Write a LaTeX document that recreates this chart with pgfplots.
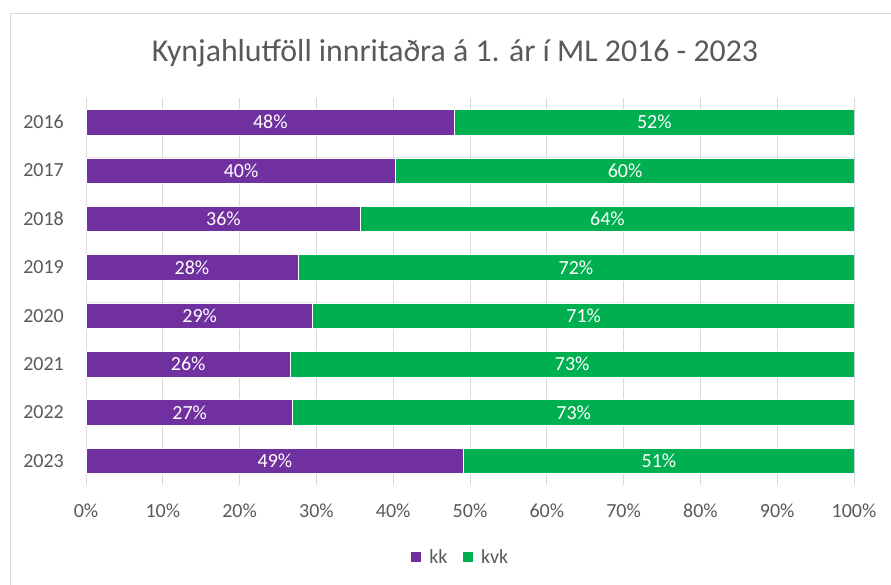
\documentclass[border=0pt]{standalone}
\usepackage{pgfplots}
\usepackage{pgfplotstable}
\pgfplotsset{compat=1.18}
\usepackage{fontspec}
\setmainfont{Carlito}
\definecolor{kkc}{HTML}{7030A0}
\definecolor{kvkc}{HTML}{00B050}
\definecolor{txt}{HTML}{595959}
\definecolor{grd}{HTML}{D9D9D9}
\pgfplotstableread{
y kk kvk
0 47.9 52.1
1 40.3 59.7
2 35.7 64.3
3 27.6 72.4
4 29.5 70.5
5 26.6 73.4
6 26.9 73.1
7 49.1 50.9
}\bars
\pgfplotstableread{
x y lab
24.0 0 48
74.0 0 52
20.2 1 40
70.2 1 60
17.9 2 36
67.9 2 64
13.8 3 28
63.8 3 72
14.8 4 29
64.8 4 71
13.3 5 26
63.3 5 73
13.5 6 27
63.5 6 73
24.6 7 49
74.6 7 51
}\labs
\begin{document}
\begin{tikzpicture}[x=1pt,y=1pt]
\useasboundingbox (0,0) rectangle (891,584);
\draw[grd, line width=1pt] (10,-10) -- (10,570) -- (900,570);
\node[anchor=base, text=txt, font=\fontsize{31.8}{36}\selectfont, inner sep=0pt] at (455,522.3) {Kynjahlutföll innritaðra á 1. ár í ML 2016 - 2023};
\begin{axis}[
  at={(86pt,99pt)}, anchor=south west,
  width=768pt, height=387pt, scale only axis,
  xbar stacked, bar width=25.5pt,
  xmin=0, xmax=100, ymin=-0.5, ymax=7.5, y dir=reverse,
  xtick={0,10,...,100},
  xticklabels={0\%,10\%,20\%,30\%,40\%,50\%,60\%,70\%,80\%,90\%,100\%},
  ytick={0,...,7},
  yticklabels={2016,2017,2018,2019,2020,2021,2022,2023},
  /pgf/number format/assume math mode=true,
  axis line style={draw=none},
  major tick length=0pt,
  xmajorgrids, grid style={grd, line width=1pt},
  ticklabel style={text=txt, font=\fontsize{20}{24}\selectfont, inner sep=0pt},
  xticklabel style={anchor=base, yshift=-32pt},
  yticklabel style={anchor=east, xshift=-22pt},
  legend style={at={(0.487,-0.186)}, anchor=center, draw=none, fill=none,
    legend columns=2, font=\fontsize{20}{24}\selectfont, text=txt,
    /tikz/every odd column/.append style={column sep=6pt},
    /tikz/every even column/.append style={column sep=12pt}},
  legend image code/.code={\fill[#1] (0pt,-5.5pt) rectangle (11pt,5.5pt);},
]
\addplot[fill=kkc, draw=white, line width=0.6pt] table[x=kk, y=y] {\bars};
\addlegendentry{kk}
\addplot[fill=kvkc, draw=white, line width=0.6pt] table[x=kvk, y=y] {\bars};
\addlegendentry{kvk}
\end{axis}
\begin{axis}[
  at={(86pt,99pt)}, anchor=south west,
  width=768pt, height=387pt, scale only axis,
  xmin=0, xmax=100, ymin=-0.5, ymax=7.5, y dir=reverse,
  hide axis,
]
\addplot[draw=none, mark=none, nodes near coords={\pgfplotspointmeta\%},
  point meta=explicit symbolic,
  every node near coord/.append style={anchor=center, text=white, font=\fontsize{20}{24}\selectfont, inner sep=0pt}]
  table[x=x, y=y, meta=lab] {\labs};
\end{axis}
\end{tikzpicture}
\end{document}
